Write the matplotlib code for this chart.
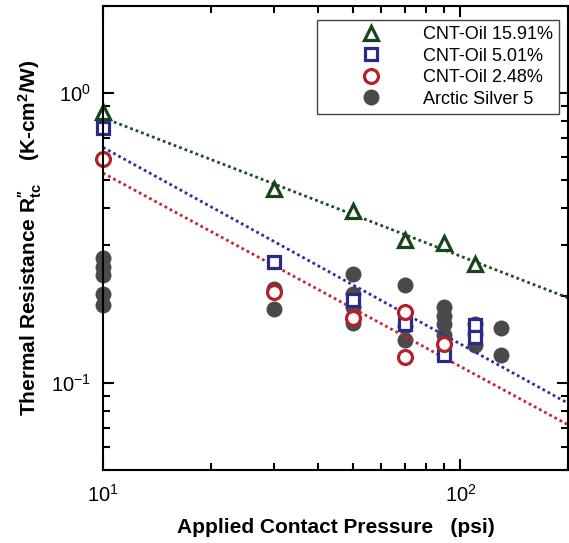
import numpy as np
import matplotlib
matplotlib.use('Agg')
import matplotlib.pyplot as plt
from matplotlib.ticker import NullFormatter

plt.rcParams['font.family'] = ['Liberation Sans', 'DejaVu Sans']
plt.rcParams['mathtext.fontset'] = 'custom'
plt.rcParams['mathtext.rm'] = 'Liberation Sans'
plt.rcParams['mathtext.it'] = 'Liberation Sans:italic'
plt.rcParams['mathtext.bf'] = 'Liberation Sans:bold'

# 測定データ (圧力 psi, 熱抵抗 K-cm2/W)
p_1591 = [10, 30, 50, 70, 90, 110]
r_1591 = [0.86, 0.466, 0.393, 0.311, 0.303, 0.258]

p_501 = [10, 30, 50, 70, 90, 110, 110]
r_501 = [0.76, 0.261, 0.193, 0.160, 0.125, 0.158, 0.144]

p_248 = [10, 30, 50, 70, 70, 90]
r_248 = [0.593, 0.206, 0.167, 0.175, 0.123, 0.136]

p_as5 = [10, 10, 10, 10, 10, 30, 30, 50, 50, 50, 50, 70, 70, 70, 70,
         90, 90, 90, 90, 110, 110, 110, 130, 130]
r_as5 = [0.269, 0.252, 0.235, 0.203, 0.186, 0.211, 0.180,
         0.238, 0.203, 0.182, 0.161, 0.217, 0.176, 0.157, 0.140,
         0.183, 0.170, 0.159, 0.146, 0.160, 0.148, 0.135, 0.155, 0.125]

# べき乗フィット (10 psi での値, 指数)
fit_1591 = (0.823, -0.478)
fit_501 = (0.650, -0.679)
fit_248 = (0.530, -0.668)

labels = ['CNT-Oil 15.91%', 'CNT-Oil 5.01%', 'CNT-Oil 2.48%', 'Arctic Silver 5']

GREEN = '#17451a'
BLUE = '#2a2a8e'
RED = '#b3202a'
GREY = '#4a4a4a'

fig = plt.figure(figsize=(5.69, 5.43), dpi=100)
ax = fig.add_axes([103 / 569, 73 / 543, 465 / 569, 464 / 543])
ax.set_xscale('log')
ax.set_yscale('log')

# フィット線
p_fit = np.logspace(1, np.log10(200), 100)
for (r10, n), c in [(fit_1591, '#1f4d22'), (fit_501, '#2e2ea6'), (fit_248, '#c4282f')]:
    ax.plot(p_fit, r10 * (p_fit / 10) ** n, color=c, lw=2.0,
            linestyle=(0, (1, 1.1)), zorder=2.1)

# マーカー
h_as5, = ax.plot(p_as5, r_as5, 'o', ms=11.5, color=GREY, mec='none',
                 clip_on=False, zorder=2)
h_1591, = ax.plot(p_1591, r_1591, '^', ms=10.5, mfc='white', mec=GREEN, mew=2.3,
                  clip_on=False, zorder=2.2)
h_501, = ax.plot(p_501, r_501, 's', ms=8.5, mfc='white', mec=BLUE, mew=2.3,
                 clip_on=False, zorder=2.2)
h_248, = ax.plot(p_248, r_248, 'o', ms=10, mfc='white', mec=RED, mew=2.3,
                 clip_on=False, zorder=2.2)

ax.set_xlim(10, 200)
ax.set_ylim(0.05, 2)

for s in ax.spines.values():
    s.set_linewidth(1.5)
ax.tick_params(which='both', direction='in', top=True, right=True, width=1.5)
ax.tick_params(which='major', length=8, labelsize=14.5)
ax.tick_params(which='minor', length=5)
ax.tick_params(axis='x', which='major', pad=10)
ax.tick_params(axis='y', which='major', pad=8.5)
ax.xaxis.set_minor_formatter(NullFormatter())
ax.yaxis.set_minor_formatter(NullFormatter())

ax.set_xlabel('Applied Contact Pressure   (psi)', fontsize=15, fontweight='bold',
              labelpad=9)
ax.set_ylabel('Thermal Resistance R$^{\\mathbf{\\prime\\prime}}_{\\mathbf{tc}}$    '
              '(K-cm$^{\\mathbf{2}}$/W)', fontsize=15, fontweight='bold', labelpad=5)

leg = ax.legend([h_1591, h_501, h_248, h_as5], labels, loc='upper right',
                bbox_to_anchor=(0.981, 0.970), borderaxespad=0, fontsize=13,
                fancybox=False, framealpha=1, edgecolor='#444444',
                handlelength=5.3, handletextpad=0.2, labelspacing=0.25,
                borderpad=0.35, numpoints=1)
leg.get_frame().set_linewidth(1.0)

fig.savefig('out.png', dpi=100)
